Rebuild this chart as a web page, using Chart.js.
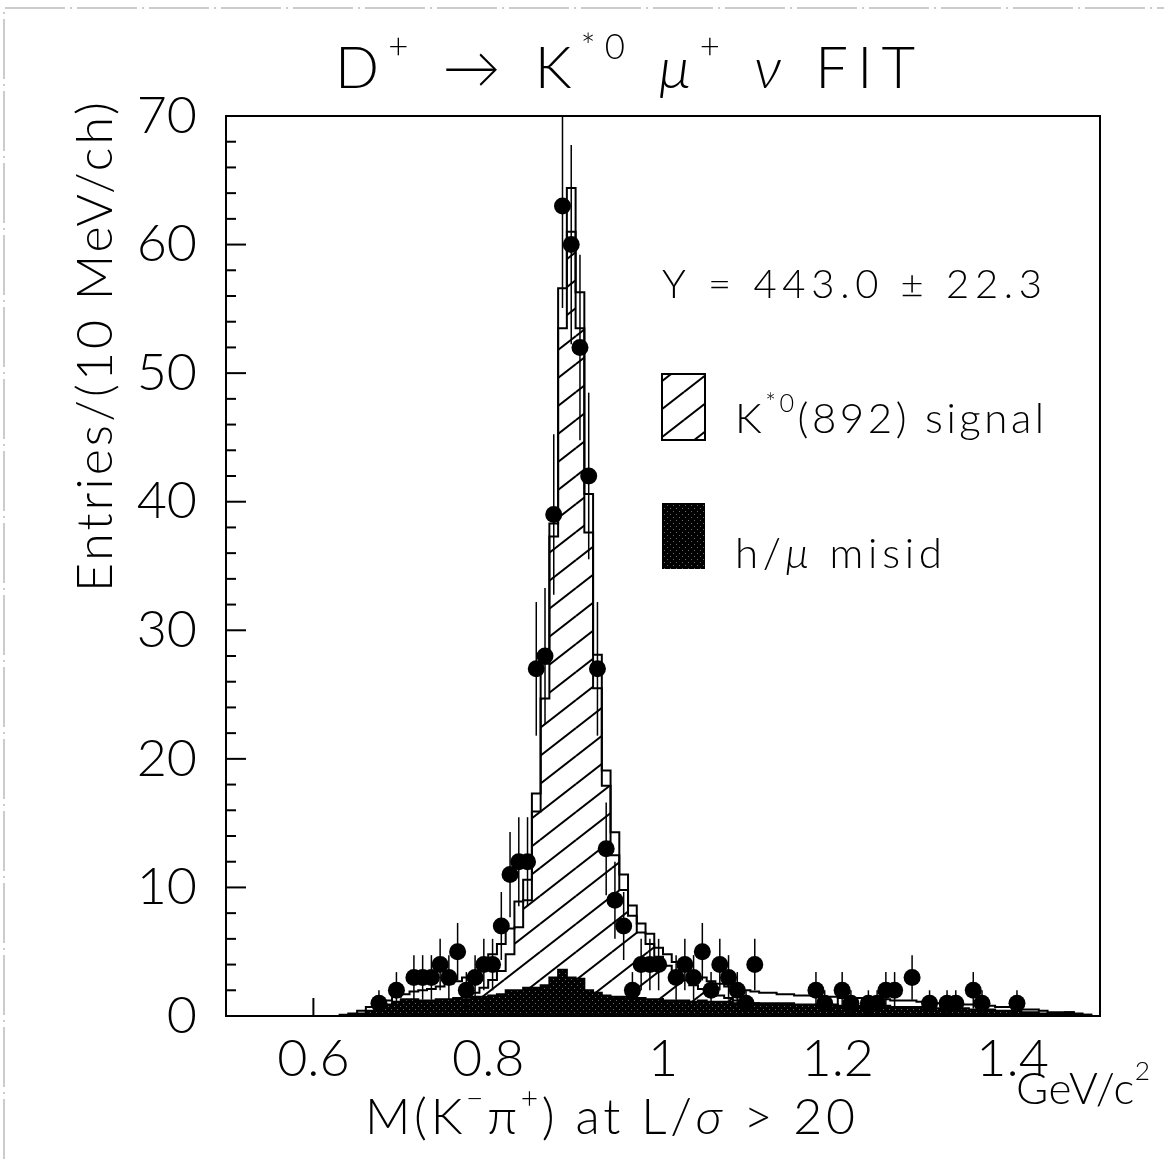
<!DOCTYPE html>
<html>
<head>
<meta charset="utf-8">
<script src="https://cdn.jsdelivr.net/npm/chart.js@4.4.0/dist/chart.umd.min.js"></script>
<style>
  html, body { margin: 0; padding: 0; background: #fff; }
  #wrap { width: 1164px; height: 1159px; }
</style>
</head>
<body>
<div id="wrap"><canvas id="fit" width="1164" height="1159"></canvas></div>
<script>
// histogram binning: 10 MeV/ch starting at 0.63 GeV/c^2
const BIN_START = 0.63;
const BIN_WIDTH = 0.01;

// K*0(892) signal component (hatched)
const signalFit = [
  0.0, 0.1, 0.1, 0.2, 0.3, 0.4, 0.5, 0.6, 0.7, 0.8,
  0.9, 1.0, 1.1, 1.3, 1.5, 1.8, 2.2, 2.8, 3.5, 4.8,
  6.9, 9.0, 15.9, 24.7, 37.3, 53.5, 61.0, 53.5, 37.6, 25.5,
  17.9, 12.5, 9.8, 7.8, 6.5, 5.6, 4.6, 3.9, 3.3, 2.8,
  2.4, 2.1, 1.8, 1.6, 1.4, 1.2, 1.1, 1.0, 0.9, 0.8,
  0.7, 0.6, 0.6, 0.5, 0.5, 0.4, 0.4, 0.4, 0.3, 0.3,
  0.3, 0.3, 0.2, 0.2, 0.2, 0.2, 0.2, 0.2, 0.1, 0.1,
  0.1, 0.1, 0.1, 0.1, 0.1, 0.1, 0.1, 0.1, 0.0, 0.0,
  0.0, 0.0, 0.0, 0.0, 0.0, 0.0
];

// h/mu misidentification component (solid)
const misidFit = [
  0.0, 0.1, 0.2, 0.4, 0.6, 0.9, 1.1, 1.3, 1.3, 1.2,
  1.2, 1.3, 1.3, 1.4, 1.3, 1.5, 1.5, 1.6, 1.7, 2.0,
  2.0, 2.2, 2.2, 2.4, 3.0, 3.6, 3.0, 2.9, 2.0, 1.8,
  1.6, 1.5, 1.5, 1.4, 1.4, 1.3, 1.3, 1.2, 1.2, 1.2,
  1.1, 1.2, 1.1, 1.1, 1.1, 1.0, 1.0, 1.0, 1.0, 1.0,
  1.0, 1.0, 0.9, 0.9, 0.9, 0.9, 0.9, 0.8, 0.8, 0.8,
  0.8, 0.8, 0.8, 0.7, 0.7, 0.7, 0.7, 0.7, 0.6, 0.6,
  0.6, 0.6, 0.5, 0.5, 0.5, 0.4, 0.4, 0.4, 0.3, 0.3,
  0.2, 0.2, 0.2, 0.3, 0.1, 0.1
];

// total fit (open histogram)
const totalFit = [
  0.1, 0.2, 0.4, 0.7, 1.0, 1.2, 1.5, 1.7, 1.9, 2.0,
  2.1, 2.3, 2.5, 2.7, 3.0, 3.4, 4.0, 4.8, 5.6, 6.8,
  8.9, 10.6, 17.3, 27.4, 38.3, 56.6, 64.4, 56.3, 40.6, 28.1,
  19.1, 14.3, 11.0, 8.6, 7.2, 6.4, 5.3, 4.8, 4.2, 3.7,
  3.3, 3.0, 2.7, 2.5, 2.3, 2.1, 2.0, 1.9, 1.8, 1.8,
  1.7, 1.7, 1.6, 1.6, 1.6, 1.5, 1.5, 1.4, 1.4, 1.4,
  1.3, 1.3, 1.3, 1.2, 1.2, 1.2, 1.1, 1.1, 1.0, 1.0,
  1.0, 0.9, 0.9, 0.8, 0.8, 0.7, 0.7, 0.6, 0.5, 0.5,
  0.4, 0.3, 0.3, 0.3, 0.2, 0.1
];

// measured entries (bin centre, count)
const dataMass = [
  0.675, 0.695, 0.715, 0.725, 0.735, 0.745, 0.755, 0.765, 0.775, 0.785,
  0.795, 0.805, 0.815, 0.825, 0.835, 0.845, 0.855, 0.865, 0.875, 0.885,
  0.895, 0.905, 0.915, 0.925, 0.935, 0.945, 0.955, 0.965, 0.975, 0.985,
  0.995, 1.015, 1.025, 1.035, 1.045, 1.055, 1.065, 1.075, 1.085, 1.095,
  1.105, 1.175, 1.185, 1.205, 1.215, 1.235, 1.245, 1.255, 1.265, 1.285,
  1.305, 1.325, 1.335, 1.355, 1.365, 1.405
];
const dataCounts = [
  1, 2, 3, 3, 3, 4, 3, 5, 2, 3,
  4, 4, 7, 11, 12, 12, 27, 28, 39, 63,
  60, 52, 42, 27, 13, 9, 7, 2, 4, 4,
  4, 3, 4, 3, 5, 2, 4, 3, 2, 1,
  4, 2, 1, 2, 1, 1, 1, 2, 2, 3,
  1, 1, 1, 2, 1, 1
];

const xTicks = [0.6, 0.8, 1, 1.2, 1.4];
const yTicks = [0, 10, 20, 30, 40, 50, 60, 70];
const yMinorStep = 2;

const FONT = 'Lato, Roboto, sans-serif';
const WEIGHT = '300';

// turn binned values into stepped line points (left edges + closing edge)
function stepPoints(values) {
  const pts = [{x: BIN_START, y: 0}];
  values.forEach((v, i) => pts.push({x: BIN_START + i * BIN_WIDTH, y: v}));
  const end = BIN_START + values.length * BIN_WIDTH;
  pts.push({x: end, y: values[values.length - 1]});
  pts.push({x: end, y: 0});
  return pts;
}

function makeHatch() {
  const w = 36, h = 28;
  const c = document.createElement('canvas');
  c.width = w; c.height = h;
  const g = c.getContext('2d');
  g.fillStyle = '#fff';
  g.fillRect(0, 0, w, h);
  g.strokeStyle = '#000';
  g.lineWidth = 2;
  for (const dx of [-w, 0, w]) {
    for (const dy of [-h, 0, h]) {
      g.beginPath();
      g.moveTo(dx, h + dy);
      g.lineTo(dx + w, dy);
      g.stroke();
    }
  }
  return g.createPattern(c, 'repeat');
}

function makeStipple() {
  const c = document.createElement('canvas');
  c.width = 6; c.height = 6;
  const g = c.getContext('2d');
  g.fillStyle = '#000';
  g.fillRect(0, 0, 6, 6);
  g.fillStyle = '#6a6a6a';
  g.fillRect(1, 1, 1, 1);
  g.fillRect(4, 4, 1, 1);
  return g.createPattern(c, 'repeat');
}

const ctx0 = document.getElementById('fit').getContext('2d');
const hatch = makeHatch();
const stipple = makeStipple();

// draws a line of text made of pieces [text, scale, rise, italic] stretched to a width
function richText(ctx, parts, o) {
  ctx.save();
  ctx.fillStyle = '#000';
  ctx.textAlign = 'left';
  ctx.textBaseline = 'alphabetic';
  const fontOf = p => `${p[3] ? 'italic ' : ''}${WEIGHT} ${(o.size * (p[1] || 1)).toFixed(1)}px ${FONT}`;
  const hasLS = 'letterSpacing' in ctx;
  if (hasLS) ctx.letterSpacing = '0px';
  let raw = 0, chars = 0;
  const widths = parts.map(p => {
    ctx.font = fontOf(p);
    const w = ctx.measureText(p[0]).width;
    raw += w;
    chars += [...p[0]].length;
    return w;
  });
  let sp = 0;
  if (o.width && hasLS) sp = (o.width - raw) / Math.max(chars - 1, 1);
  ctx.translate(o.x, o.y);
  if (o.rotate) ctx.rotate(o.rotate);
  let x = 0;
  parts.forEach((p, i) => {
    ctx.font = fontOf(p);
    if (hasLS) ctx.letterSpacing = sp.toFixed(2) + 'px';
    ctx.fillText(p[0], x, -(p[2] || 0) * o.size);
    x += widths[i] + sp * [...p[0]].length;
  });
  ctx.restore();
}

const decor = {
  id: 'decor',
  beforeDraw(chart) {
    const c = chart.ctx;
    c.save();
    c.fillStyle = '#fff';
    c.fillRect(0, 0, chart.width, chart.height);
    // faint scan border
    c.strokeStyle = '#999';
    c.lineWidth = 1;
    c.setLineDash([60, 5, 2, 5]);
    c.beginPath();
    c.moveTo(4, 1159); c.lineTo(4, 8); c.lineTo(1164, 8);
    c.stroke();
    c.restore();
  },
  afterDatasetsDraw(chart) {
    const c = chart.ctx;
    const {left, right, top, bottom} = chart.chartArea;
    const xs = chart.scales.x, ys = chart.scales.y;
    c.save();
    // error bars (Poisson)
    c.beginPath();
    c.rect(left, top, right - left, bottom - top);
    c.clip();
    c.strokeStyle = '#000';
    c.lineWidth = 1.5;
    dataMass.forEach((m, i) => {
      const n = dataCounts[i];
      const e = Math.sqrt(n);
      const px = xs.getPixelForValue(m);
      c.beginPath();
      c.moveTo(px, ys.getPixelForValue(n - e));
      c.lineTo(px, ys.getPixelForValue(n + e));
      c.stroke();
    });
    c.restore();

    c.save();
    c.strokeStyle = '#000';
    c.lineWidth = 2;
    // inward tick marks
    for (let v = 0; v <= 70; v += yMinorStep) {
      const py = ys.getPixelForValue(v);
      const len = yTicks.includes(v) ? 20 : 10;
      c.beginPath();
      c.moveTo(left, py);
      c.lineTo(left + len, py);
      c.stroke();
    }
    xTicks.forEach(v => {
      const px = xs.getPixelForValue(v);
      c.beginPath();
      c.moveTo(px, bottom);
      c.lineTo(px, bottom - 18);
      c.stroke();
    });
    // frame
    c.strokeRect(left, top, right - left, bottom - top);
    c.restore();
  },
  afterDraw(chart) {
    const c = chart.ctx;
    richText(c, [['D'], ['+', 0.6, 0.5], [' → K'], ['*0', 0.6, 0.5], [' '], ['μ', 1, 0, true], ['+', 0.6, 0.5], [' '], ['ν', 1, 0, true], [' FIT']],
      {x: 335, y: 88, size: 58, width: 580});
    richText(c, [['Entries/(10 MeV/ch)']],
      {x: 112, y: 592, size: 50, width: 490, rotate: -Math.PI / 2});
    richText(c, [['M(K'], ['−', 0.6, 0.5], ['π'], ['+', 0.6, 0.5], [') at L/'], ['σ', 1, 0, true], [' > 20']],
      {x: 365, y: 1134, size: 50, width: 490});
    richText(c, [['GeV/c'], ['2', 0.6, 0.55]],
      {x: 1016, y: 1104, size: 44, width: 134});
    richText(c, [['Y = 443.0 ± 22.3']],
      {x: 662, y: 298, size: 40, width: 380});
    richText(c, [['K'], ['*0', 0.6, 0.5], ['(892) signal']],
      {x: 735, y: 433, size: 42, width: 309});
    richText(c, [['h/'], ['μ', 1, 0, true], [' misid']],
      {x: 735, y: 568, size: 42, width: 207});

    // legend boxes
    c.save();
    c.lineWidth = 2;
    c.strokeStyle = '#000';
    c.fillStyle = hatch;
    c.fillRect(662, 374, 43, 66);
    c.strokeRect(662, 374, 43, 66);
    c.fillStyle = stipple;
    c.fillRect(662, 503, 43, 66);
    c.restore();
  }
};

new Chart(ctx0, {
  type: 'line',
  data: {
    datasets: [
      {
        label: 'K*0(892) signal',
        data: stepPoints(signalFit),
        stepped: true,
        fill: 'origin',
        backgroundColor: hatch,
        borderColor: '#000',
        borderWidth: 2,
        pointRadius: 0,
        order: 5
      },
      {
        label: 'h/mu misid',
        data: stepPoints(misidFit),
        stepped: true,
        fill: 'origin',
        backgroundColor: stipple,
        borderColor: '#000',
        borderWidth: 2,
        pointRadius: 0,
        order: 4
      },
      {
        label: 'fit',
        data: stepPoints(totalFit),
        stepped: true,
        fill: false,
        borderColor: '#000',
        borderWidth: 2,
        pointRadius: 0,
        order: 3
      },
      {
        label: 'data',
        data: dataMass.map((m, i) => ({x: m, y: dataCounts[i]})),
        showLine: false,
        pointRadius: 8.5,
        pointBorderWidth: 0,
        pointBackgroundColor: '#000',
        order: 1
      }
    ]
  },
  options: {
    responsive: false,
    animation: false,
    devicePixelRatio: 1,
    events: [],
    layout: {padding: {top: 116, right: 64, bottom: 0, left: 0}},
    plugins: {legend: {display: false}, tooltip: {enabled: false}},
    scales: {
      x: {
        type: 'linear',
        min: 0.5,
        max: 1.5,
        afterBuildTicks: s => { s.ticks = xTicks.map(v => ({value: v})); },
        afterFit: s => { s.height = 143; },
        grid: {display: false, drawTicks: false},
        border: {display: false},
        ticks: {
          padding: 12,
          color: '#000',
          font: {family: FONT, size: 52, weight: WEIGHT},
          callback: v => String(v),
          maxRotation: 0,
          autoSkip: false
        }
      },
      y: {
        min: 0,
        max: 70,
        afterBuildTicks: s => { s.ticks = yTicks.map(v => ({value: v})); },
        afterFit: s => { s.width = 226; },
        grid: {display: false, drawTicks: false},
        border: {display: false},
        ticks: {
          padding: 29,
          color: '#000',
          font: {family: FONT, size: 52, weight: WEIGHT},
          autoSkip: false
        }
      }
    }
  },
  plugins: [decor]
});
</script>
</body>
</html>
